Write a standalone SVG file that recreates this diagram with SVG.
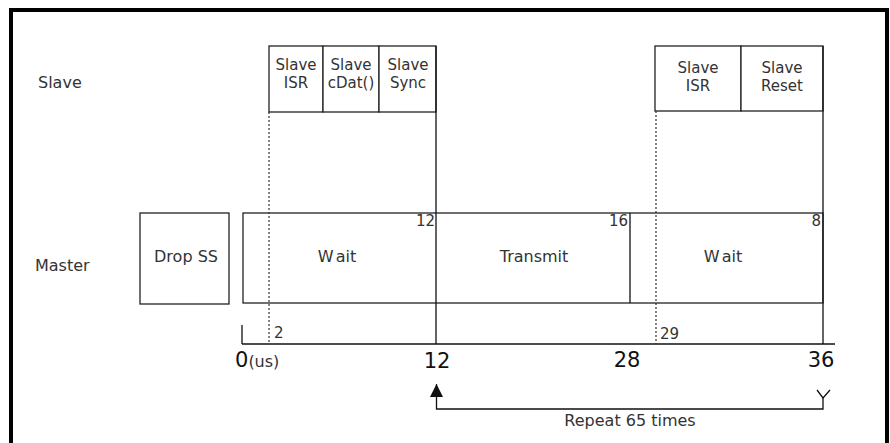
<svg xmlns="http://www.w3.org/2000/svg" width="890" height="443" viewBox="0 0 890 443">
<defs>
<style>
text{font-family:"DejaVu Sans","Liberation Sans",sans-serif;fill:#333}
.lbl{font-size:16px}
.bx{font-size:15px}
.box{fill:#fff;stroke:#222;stroke-width:1.3}
.ln{stroke:#111;stroke-width:1.3;fill:none}
.dot{stroke:#333;stroke-width:1.2;stroke-dasharray:2,2;fill:none}
.sm{font-size:15px}
.big{font-size:21px;fill:#111}
.mid{text-anchor:middle}
.end{text-anchor:end}
</style>
<marker id="ah" viewBox="0 0 10 10" refX="10" refY="5" markerWidth="13" markerHeight="13" markerUnits="userSpaceOnUse" orient="auto">
<path d="M0,0 L10,5 L0,10 Z" fill="#111"/>
</marker>
</defs>
<rect x="0" y="0" width="890" height="443" fill="#fff"/>
<rect id="frame" x="11" y="10" width="876" height="460" fill="none" stroke="#000" stroke-width="4"/>

<g id="slave-label"><text class="lbl" x="38" y="88">Slave</text></g>
<g id="master-label"><text class="lbl" x="35" y="271">Master</text></g>

<g id="slave-isr-1">
<rect class="box" x="269" y="46" width="54" height="66"/>
<text class="bx mid" x="296" y="70">Slave</text><text class="bx mid" x="296" y="88">ISR</text>
</g>
<g id="slave-cdat">
<rect class="box" x="323" y="46" width="56" height="66"/>
<text class="bx mid" x="351" y="70">Slave</text><text class="bx mid" x="351" y="88">cDat()</text>
</g>
<g id="slave-sync">
<rect class="box" x="379" y="46" width="57" height="66"/>
<text class="bx mid" x="408" y="70">Slave</text><text class="bx mid" x="408" y="88">Sync</text>
</g>
<g id="slave-isr-2">
<rect class="box" x="655" y="46" width="86" height="65"/>
<text class="bx mid" x="698" y="73">Slave</text><text class="bx mid" x="698" y="91">ISR</text>
</g>
<g id="slave-reset">
<rect class="box" x="741" y="46" width="82" height="65"/>
<text class="bx mid" x="782" y="73">Slave</text><text class="bx mid" x="782" y="91">Reset</text>
</g>

<g id="drop-ss">
<rect class="box" x="140" y="213" width="89" height="91"/>
<text class="lbl mid" x="186" y="262">Drop SS</text>
</g>
<g id="master-track">
<rect class="box" x="243" y="213" width="580" height="90"/>
</g>
<g id="wait-1">
<text class="lbl mid" x="337" y="262">W<tspan dx="3">ait</tspan></text>
<text class="sm end" x="435" y="226">12</text>
</g>
<g id="transmit">
<line class="ln" x1="630" y1="213" x2="630" y2="303"/>
<text class="lbl mid" x="534" y="262">Transmit</text>
<text class="sm end" x="628" y="226">16</text>
</g>
<g id="wait-2">
<text class="lbl mid" x="723" y="262">W<tspan dx="3">ait</tspan></text>
<text class="sm end" x="821" y="226">8</text>
</g>

<g id="axis">
<line class="ln" x1="242" y1="344" x2="835" y2="344"/>
<line class="ln" x1="242" y1="325" x2="242" y2="344"/>
<text class="big" x="235" y="367">0<tspan font-size="16" fill="#333">(us)</tspan></text>
<text class="big mid" x="437" y="368">12</text>
<text class="big mid" x="627" y="367">28</text>
<text class="big mid" x="821" y="367">36</text>
<text class="sm" x="274" y="338">2</text>
<text class="sm" x="660" y="339">29</text>
</g>

<g id="connectors">
<line class="ln" x1="436" y1="46" x2="436" y2="344"/>
<line class="ln" x1="823" y1="46" x2="823" y2="344"/>
<line class="dot" x1="269" y1="112" x2="269" y2="344"/>
<line class="dot" x1="656" y1="111" x2="656" y2="344"/>
<path class="ln" d="M823,398 L823,409 L436.5,409 L436.5,384" marker-end="url(#ah)"/>
<path class="ln" d="M817,390 L823,398 L830,390"/>
<text class="lbl mid" x="630" y="426">Repeat 65 times</text>
</g>
</svg>
